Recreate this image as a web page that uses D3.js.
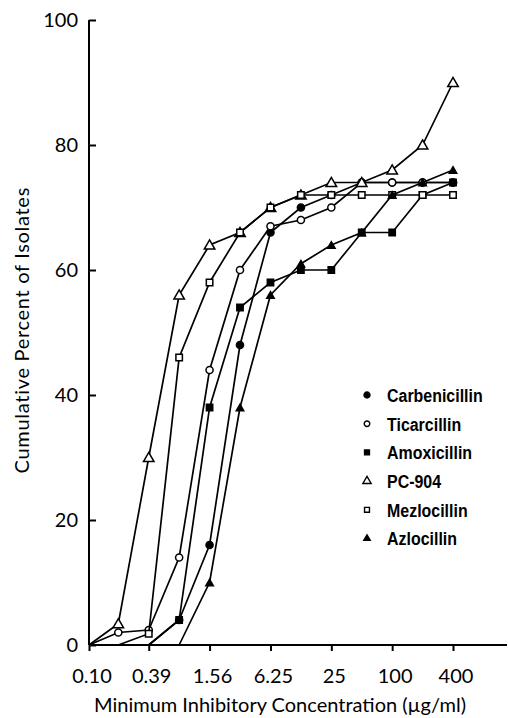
<!DOCTYPE html>
<html>
<head>
<meta charset="utf-8">
<script src="https://cdn.jsdelivr.net/npm/d3@7"></script>
<style>
  body { margin: 0; background: #fff; }
  svg { display: block; }
  .axis-text { font-family: Lato, "DejaVu Sans", sans-serif; font-size: 20px; fill: #000; }
  .legend-text { font-family: "Liberation Sans", Arial, sans-serif; font-weight: bold; font-size: 19px; fill: #000; }
</style>
</head>
<body>
<div class="chart"></div>
<script>
var width = 508,
height = 718;

// concentrations (ug/ml), one step per doubling
var concentrations = [0.10, 0.195, 0.39, 0.78, 1.56, 3.12, 6.25, 12.5, 25, 50, 100, 200, 400];
var xTickValues = [0.10, 0.39, 1.56, 6.25, 25, 100, 400];
var xTickLabels = ["0.10", "0.39", "1.56", "6.25", "25", "100", "400"];
var yTickValues = [0, 20, 40, 60, 80, 100];

// cumulative percent of isolates inhibited (null = not plotted)
var carbenicillin = [null, null, 0, 4, 16, 48, 66, 70, 72, 74, 74, 74, 74];
var ticarcillin   = [0, 2, 2.4, 14, 44, 60, 67, 68, 70, 74, 74, 74, 74];
var amoxicillin   = [null, null, 0, 4, 38, 54, 58, 60, 60, 66, 66, 72, 74];
var pc904         = [0, 3.4, 30, 56, 64, 66, 70, 72, 74, 74, 76, 80, 90];
var mezlocillin   = [null, 0, 1.8, 46, 58, 66, 70, 72, 72, 72, 72, 72, 72];
var azlocillin    = [null, null, null, 0, 10, 38, 56, 61, 64, 66, 72, 74, 76];

var seriesNames = ["Carbenicillin", "Ticarcillin", "Amoxicillin", "PC-904", "Mezlocillin", "Azlocillin"];
var seriesValues = [carbenicillin, ticarcillin, amoxicillin, pc904, mezlocillin, azlocillin];
var seriesSymbols = ["circle", "circle", "square", "triangle", "square", "triangle"];
var seriesFilled = [true, false, true, false, false, true];
var seriesMarkSize = [40, 40, 40, 48, 42, 24];
var legendMarkSize = [28, 24, 24, 30, 24, 18];

var svg = d3.select("div.chart").append("svg")
  .attr("width", width)
  .attr("height", height);

var xScale = d3.scaleLog().base(2).domain([0.10, 400]).range([89, 453]);
var yScale = d3.scaleLinear().domain([0, 100]).range([645, 20]);

var symbolType = { circle: d3.symbolCircle, square: d3.symbolSquare, triangle: d3.symbolTriangle };

// y axis (ticks point inward)
var yAxis = d3.axisRight(yScale)
  .tickValues(yTickValues)
  .tickSize(7)
  .tickFormat("");
var yG = svg.append("g")
  .attr("transform", "translate(89,0)")
  .call(yAxis);
yG.select(".domain").attr("stroke-width", 2).attr("d", "M0,20V645");
yG.selectAll(".tick line").attr("stroke-width", 2);

svg.append("g").selectAll("text")
  .data(yTickValues)
  .enter()
  .append("text")
  .attr("class", "axis-text")
  .attr("x", 78)
  .attr("y", function(d) { return yScale(d); })
  .attr("dy", "0.36em")
  .attr("text-anchor", "end")
  .text(function(d) { return d; });

// x axis
var xAxis = d3.axisBottom(xScale)
  .tickValues(xTickValues)
  .tickSize(6)
  .tickFormat("");
var xG = svg.append("g")
  .attr("transform", "translate(0,645)")
  .call(xAxis);
xG.select(".domain").attr("stroke-width", 2).attr("d", "M89,0H507");
xG.selectAll(".tick line").attr("stroke-width", 2);

svg.append("g").selectAll("text")
  .data(xTickValues)
  .enter()
  .append("text")
  .attr("class", "axis-text")
  .attr("x", function(d) { return xScale(d) + 3; })
  .attr("y", 683)
  .attr("text-anchor", "middle")
  .text(function(d, i) { return xTickLabels[i]; });

// axis titles
svg.append("text")
  .attr("class", "axis-text")
  .attr("x", 280)
  .attr("y", 712)
  .attr("text-anchor", "middle")
  .text("Minimum Inhibitory Concentration (\u00b5g/ml)");

svg.append("text")
  .attr("class", "axis-text")
  .attr("transform", "translate(29,187) rotate(-90)")
  .attr("text-anchor", "end")
  .style("letter-spacing", "0.7px")
  .text("Cumulative Percent of Isolates");

// lines + markers
var line = d3.line()
  .defined(function(d) { return d.v != null; })
  .x(function(d) { return xScale(d.c); })
  .y(function(d) { return yScale(d.v); });

seriesValues.forEach(function(vals, i) {
  var pts = vals.map(function(v, j) { return { c: concentrations[j], v: v }; });
  var g = svg.append("g").attr("class", "series");

  g.append("path")
    .datum(pts)
    .attr("d", line)
    .attr("fill", "none")
    .attr("stroke", "#000")
    .attr("stroke-width", 1.7);

  g.selectAll(".pt")
    .data(pts.filter(function(d) { return d.v != null && d.v > 0; }))
    .enter()
    .append("path")
    .attr("class", "pt")
    .attr("transform", function(d) {
      var dy = seriesSymbols[i] == "triangle" ? 1 : 0;
      return "translate(" + xScale(d.c) + "," + (yScale(d.v) + dy) + ")";
    })
    .attr("d", d3.symbol().type(symbolType[seriesSymbols[i]]).size(seriesMarkSize[i]))
    .attr("fill", seriesFilled[i] ? "#000" : "#fff")
    .attr("stroke", "#000")
    .attr("stroke-width", 1.5);
});

// legend
var legend = svg.append("g").selectAll("g")
  .data(seriesNames)
  .enter()
  .append("g")
  .attr("transform", function(d, i) { return "translate(367," + (395 + i * 28.7) + ")"; });

legend.append("path")
  .attr("d", function(d, i) { return d3.symbol().type(symbolType[seriesSymbols[i]]).size(legendMarkSize[i])(); })
  .attr("fill", function(d, i) { return seriesFilled[i] ? "#000" : "#fff"; })
  .attr("stroke", "#000")
  .attr("stroke-width", 1.4);

// condensed bold look: squeeze the text horizontally
legend.append("text")
  .attr("class", "legend-text")
  .attr("transform", "translate(20,0) scale(0.84,1)")
  .attr("dy", "0.36em")
  .text(function(d) { return d; });
</script>
</body>
</html>
